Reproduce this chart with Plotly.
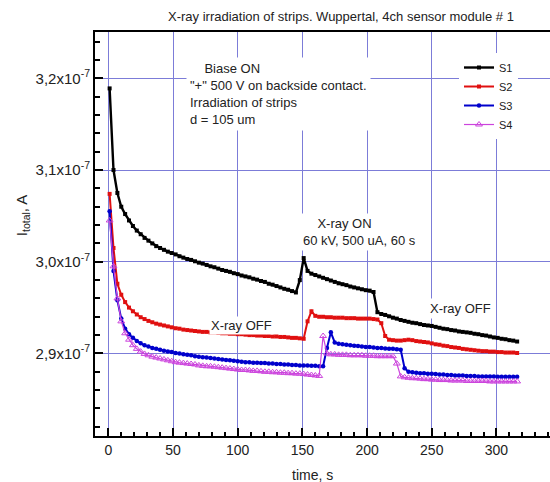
import plotly.graph_objects as go

# ---------------- data (current in units of 1e-9 A) ----------------
time_s = [1, 4, 7, 10, 13, 16, 19, 22, 25, 28,
          31, 34, 37, 40, 43, 46, 49, 52, 55, 58,
          61, 64, 67, 70, 73, 76, 79, 82, 85, 88,
          91, 94, 97, 100, 103, 106, 109, 112, 115, 118,
          121, 124, 127, 130, 133, 136, 139, 142, 145, 148,
          151, 154, 157, 160, 163, 166, 169, 172, 175, 178,
          181, 184, 187, 190, 193, 196, 199, 202, 205, 208,
          211, 214, 217, 220, 223, 226, 229, 232, 235, 238,
          241, 244, 247, 250, 253, 256, 259, 262, 265, 268,
          271, 274, 277, 280, 283, 286, 289, 292, 295, 298,
          301, 304, 307, 310, 313, 316]

S1 = [318.9, 310.0, 307.5, 306.0, 305.2, 304.5, 303.9, 303.4, 303.0, 302.6,
      302.3, 302.0, 301.7, 301.5, 301.3, 301.1, 300.95, 300.8, 300.6, 300.45,
      300.3, 300.2, 300.05, 299.9, 299.8, 299.65, 299.5, 299.4, 299.25, 299.1,
      299.0, 298.9, 298.75, 298.65, 298.5, 298.4, 298.3, 298.15, 298.05, 297.9,
      297.8, 297.6, 297.5, 297.35, 297.2, 297.05, 296.95, 296.8, 296.65, 298.0,
      300.4, 299.0, 298.7, 298.55, 298.4, 298.25, 298.1, 297.95, 297.8, 297.65,
      297.55, 297.45, 297.3, 297.2, 297.1, 297.0, 296.9, 296.85, 296.7, 294.5,
      294.3, 294.2, 294.05, 293.9, 293.8, 293.65, 293.55, 293.45, 293.35, 293.3,
      293.2, 293.1, 293.05, 293.0, 292.9, 292.8, 292.7, 292.65, 292.55, 292.5,
      292.4, 292.35, 292.3, 292.25, 292.15, 292.1, 292.0, 291.95, 291.85, 291.75,
      291.7, 291.6, 291.55, 291.45, 291.4, 291.3]

S2 = [307.4, 301.5, 297.6, 296.4, 295.6, 295.0, 294.6, 294.25, 293.95, 293.75,
      293.55, 293.4, 293.25, 293.15, 293.05, 292.95, 292.85, 292.75, 292.7, 292.6,
      292.55, 292.5, 292.45, 292.4, 292.35, 292.35, 292.3, 292.3, 292.25, 292.2,
      292.2, 292.15, 292.15, 292.1, 292.1, 292.05, 292.0, 292.0, 291.95, 291.95,
      291.9, 291.9, 291.85, 291.85, 291.8, 291.8, 291.75, 291.7, 291.7, 291.65,
      291.6, 293.5, 294.6, 294.1, 294.0, 294.0, 293.95, 293.95, 293.9, 293.9,
      293.9, 293.85, 293.85, 293.85, 293.8, 293.8, 293.8, 293.8, 293.75, 293.7,
      293.3, 291.9, 291.5, 291.45, 291.4, 291.4, 291.45, 291.5, 291.45, 291.35,
      291.3, 291.25, 291.2, 291.1, 291.0, 290.95, 290.85, 290.8, 290.7, 290.65,
      290.6, 290.5, 290.45, 290.4, 290.35, 290.3, 290.25, 290.25, 290.2, 290.2,
      290.15, 290.15, 290.1, 290.1, 290.1, 290.05]

S3 = [305.5, 299.0, 295.8, 293.8, 292.7, 292.1, 291.7, 291.35, 291.1, 290.9,
      290.75, 290.6, 290.5, 290.4, 290.3, 290.2, 290.15, 290.05, 290.0, 289.9,
      289.85, 289.8, 289.7, 289.65, 289.6, 289.55, 289.5, 289.45, 289.4, 289.35,
      289.3, 289.25, 289.2, 289.15, 289.1, 289.05, 289.05, 289.0, 289.0, 288.95,
      288.95, 288.9, 288.9, 288.85, 288.85, 288.8, 288.8, 288.75, 288.75, 288.7,
      288.7, 288.7, 288.65, 288.65, 288.6, 288.6, 290.6, 292.3, 291.2, 291.05,
      291.0, 290.95, 290.9, 290.85, 290.8, 290.75, 290.7, 290.7, 290.65, 290.6,
      290.6, 290.55, 290.5, 290.5, 290.45, 290.4, 288.4, 288.0, 287.95, 287.9,
      287.85, 287.85, 287.8, 287.8, 287.75, 287.7, 287.7, 287.65, 287.65, 287.6,
      287.6, 287.6, 287.55, 287.55, 287.55, 287.5, 287.5, 287.5, 287.5, 287.5,
      287.45, 287.45, 287.45, 287.45, 287.45, 287.45]

S4 = [304.5, 299.5, 296.0, 293.5, 292.2, 291.5, 290.9, 290.5, 290.2, 289.95,
      289.8, 289.65, 289.55, 289.45, 289.35, 289.25, 289.15, 289.05, 289.0, 288.95,
      288.9, 288.85, 288.8, 288.7, 288.65, 288.6, 288.6, 288.55, 288.5, 288.45,
      288.4, 288.35, 288.3, 288.25, 288.2, 288.2, 288.15, 288.1, 288.1, 288.05,
      288.0, 288.0, 287.95, 287.95, 287.9, 287.9, 287.85, 287.85, 287.8, 287.8,
      287.75, 287.7, 287.65, 287.6, 287.55, 291.9, 290.0, 289.9, 289.9, 289.85,
      289.85, 289.85, 289.8, 289.8, 289.8, 289.8, 289.75, 289.75, 289.75, 289.7,
      289.7, 289.7, 289.7, 289.7, 288.9, 287.5, 287.4, 287.35, 287.3, 287.3,
      287.25, 287.2, 287.2, 287.15, 287.15, 287.1, 287.1, 287.1, 287.05, 287.05,
      287.05, 287.05, 287.0, 287.0, 287.0, 287.0, 287.0, 287.0, 286.95, 286.95,
      286.95, 286.95, 286.95, 286.95, 286.95, 286.95]

series_names = ["S1", "S2", "S3", "S4"]
y_tickvals = [290, 300, 310, 320]
y_ticktext = ["2,9x10<sup>-7</sup>", "3,0x10<sup>-7</sup>",
              "3,1x10<sup>-7</sup>", "3,2x10<sup>-7</sup>"]

FONT = "Liberation Sans, Arial, sans-serif"
GRID = "#7c7cd8"

styles = [
    dict(color="#000000", symbol="square", size=4, width=2.4),
    dict(color="#e01010", symbol="square", size=4, width=2.0),
    dict(color="#0000cc", symbol="circle", size=4.5, width=2.0),
    dict(color="#cc44dd", symbol="triangle-up-open", size=6, width=1.2),
]

fig = go.Figure()
for name, vals, st in zip(series_names, [S1, S2, S3, S4], styles):
    fig.add_trace(go.Scatter(
        x=time_s, y=vals, name=name, mode="lines+markers",
        line=dict(color=st["color"], width=st["width"]),
        marker=dict(symbol=st["symbol"], size=st["size"], color=st["color"],
                    line=dict(width=1 if "open" in st["symbol"] else 0,
                              color=st["color"])),
    ))

fig.update_layout(
    width=550, height=482,
    margin=dict(l=95, r=0, t=32, b=46),
    plot_bgcolor="white", paper_bgcolor="white",
    font=dict(family=FONT, color="#222222", size=13),
    showlegend=True,
    legend=dict(x=0.80, y=0.948, xanchor="left", yanchor="top",
                bgcolor="white", borderwidth=0,
                font=dict(size=11, family=FONT, color="#222222"),
                itemwidth=30, tracegroupgap=0),
    xaxis=dict(
        range=[-10.3, 341.4], tickmode="linear", tick0=0, dtick=50,
        ticks="inside", ticklen=8, tickwidth=1.5, tickcolor="black",
        showline=True, linewidth=2, linecolor="black", mirror=True,
        showgrid=True, gridcolor=GRID, gridwidth=1, zeroline=False,
        tickfont=dict(size=14, family=FONT, color="#222222"),
        minor=dict(tickmode="linear", tick0=0, dtick=10, ticks="inside",
                   ticklen=4, tickwidth=1.5, tickcolor="black", showgrid=False),
    ),
    yaxis=dict(
        range=[281.0, 325.05], tickmode="array",
        tickvals=y_tickvals, ticktext=y_ticktext,
        ticks="inside", ticklen=8, tickwidth=1.5, tickcolor="black",
        showline=True, linewidth=2, linecolor="black", mirror=False,
        showgrid=True, gridcolor=GRID, gridwidth=1, zeroline=False,
        tickfont=dict(size=15, family=FONT, color="#222222"),
        minor=dict(tickmode="linear", tick0=0, dtick=2, ticks="inside",
                   ticklen=5, tickwidth=1.5, tickcolor="black", showgrid=False),
    ),
)

ann_font = dict(size=13, family=FONT, color="#222222")
nb = "\u00a0"
fig.add_annotation(xref="paper", yref="paper", x=0.54, y=1.0396,
                   text="X-ray irradiation of strips. Wuppertal, 4ch sensor module # 1",
                   showarrow=False, xanchor="center", yanchor="middle", font=ann_font)
fig.add_annotation(xref="x", yref="y", x=60.2, y=318.34, xanchor="left", yanchor="middle",
                   align="left", showarrow=False, bgcolor="white", borderpad=3,
                   text=nb * 4 + "Biase ON<br>\"+\" 500 V on backside contact.<br>"
                        "Irradiation of strips<br>d = 105 um",
                   font=ann_font)
fig.add_annotation(xref="x", yref="y", x=148.3, y=303.29, xanchor="left", yanchor="middle",
                   align="left", showarrow=False, bgcolor="white", borderpad=2,
                   text=nb * 4 + "X-ray ON<br>60 kV, 500 uA, 60 s", font=ann_font)
fig.add_annotation(xref="x", yref="y", x=103.3, y=293.1, xanchor="center", yanchor="middle",
                   showarrow=False, bgcolor="white", borderpad=1,
                   text="X-ray OFF", font=ann_font)
fig.add_annotation(xref="x", yref="y", x=271.9, y=294.95, xanchor="center", yanchor="middle",
                   showarrow=False, bgcolor="white", borderpad=2,
                   text="X-ray OFF", font=ann_font)
fig.add_annotation(xref="paper", yref="paper", x=-0.160, y=0.547, textangle=-90,
                   xanchor="center", yanchor="middle", showarrow=False,
                   text="I<sub>total</sub>, A", font=dict(size=15, family=FONT, color="#222222"))
fig.add_annotation(xref="paper", yref="paper", x=0.479, y=-0.0965,
                   xanchor="center", yanchor="middle", showarrow=False,
                   text="time, s", font=dict(size=14, family=FONT, color="#222222"))

fig.write_html("out.html")
